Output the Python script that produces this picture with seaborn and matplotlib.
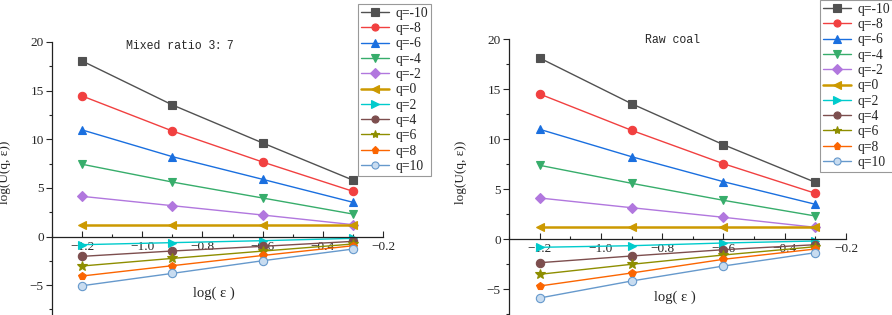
import seaborn as sns
import matplotlib.pyplot as plt
import matplotlib.ticker as mticker
import pandas as pd
import numpy as np

sns.set_theme(style="ticks")
plt.rcParams['font.family'] = ['Liberation Serif', 'Noto Sans CJK SC', 'DejaVu Sans']

# データ
log_eps = [-1.2, -0.9, -0.6, -0.3]
q_labels = ['q=-10', 'q=-8', 'q=-6', 'q=-4', 'q=-2', 'q=0', 'q=2', 'q=4', 'q=6', 'q=8', 'q=10']

mixed_vals = [
    [18.05, 13.53, 9.62, 5.8],
    [14.45, 10.85, 7.66, 4.65],
    [10.96, 8.21, 5.88, 3.52],
    [7.43, 5.6, 3.96, 2.31],
    [4.13, 3.17, 2.21, 1.22],
    [1.22, 1.22, 1.22, 1.22],
    [-0.84, -0.63, -0.43, -0.19],
    [-2.04, -1.49, -1.01, -0.5],
    [-3.03, -2.25, -1.5, -0.77],
    [-4.06, -3.0, -1.95, -0.95],
    [-5.06, -3.79, -2.49, -1.29],
]
raw_vals = [
    [18.1, 13.53, 9.43, 5.67],
    [14.5, 10.87, 7.53, 4.57],
    [10.97, 8.23, 5.73, 3.47],
    [7.37, 5.57, 3.87, 2.3],
    [4.1, 3.13, 2.17, 1.17],
    [1.2, 1.2, 1.2, 1.2],
    [-0.83, -0.67, -0.4, -0.2],
    [-2.37, -1.7, -1.07, -0.57],
    [-3.53, -2.53, -1.6, -0.77],
    [-4.7, -3.4, -2.03, -1.0],
    [-5.9, -4.2, -2.7, -1.37],
]

colors = ['#515151', '#F14040', '#1A6FDF', '#37AD6B', '#B177DE', '#CC9900',
          '#00CBCC', '#7D4E4E', '#8E8E00', '#FB6501', '#6699CC']
markers = ['s', 'o', '^', 'v', 'D', '<', '>', 'o', '*', 'p', 'o']


def draw(ax, vals, title, title_xy, ylab_xy):
    for i, lab in enumerate(q_labels):
        df = pd.DataFrame({'x': log_eps, 'y': vals[i]})
        ms = 6
        if markers[i] == 'D':
            ms = 5.5
        if markers[i] == '*':
            ms = 7
        kw = dict(marker=markers[i], markersize=ms, markeredgecolor=colors[i],
                  markerfacecolor=colors[i], markeredgewidth=0.8)
        if i == 10:
            kw['markerfacecolor'] = '#C8DCF0'
        lw = 1.8 if i == 5 else 1.0
        sns.lineplot(data=df, x='x', y='y', ax=ax, color=colors[i], lw=lw,
                     label=lab, legend=False, **kw)

    ax.set_xlim(-1.3, -0.2)
    ax.spines['bottom'].set_position(('data', 0))
    ax.spines['top'].set_visible(False)
    ax.spines['right'].set_visible(False)
    for s in ['left', 'bottom']:
        ax.spines[s].set_color('#222222')
        ax.spines[s].set_linewidth(0.9)
    ax.xaxis.set_major_locator(mticker.MultipleLocator(0.2))
    ax.xaxis.set_minor_locator(mticker.MultipleLocator(0.1))
    ax.yaxis.set_major_locator(mticker.MultipleLocator(5))
    ax.yaxis.set_minor_locator(mticker.MultipleLocator(2.5))
    ax.xaxis.set_major_formatter(mticker.FuncFormatter(lambda v, p: f'{v:.1f}'.replace('-', '\u2212')))
    ax.tick_params(axis='x', which='major', direction='in', length=4, width=0.8,
                   labelsize=9.5, pad=3)
    ax.tick_params(axis='x', which='minor', direction='in', length=2.5, width=0.8)
    ax.tick_params(axis='y', which='major', direction='out', length=4, width=0.8,
                   labelsize=9.5, pad=2)
    ax.tick_params(axis='y', which='minor', direction='out', length=2.5, width=0.8)
    ax.set_xlabel('')
    ax.set_ylabel('log(U(q, ε))', fontsize=9.5)
    ax.yaxis.set_label_coords(*ylab_xy)
    ax.text(title_xy[0], title_xy[1], title, transform=ax.transAxes, ha='center',
            va='center', fontsize=8.3, family=['Liberation Mono', 'Noto Sans CJK SC'])


fig = plt.figure(figsize=(8.92, 3.15), dpi=100)
ax1 = fig.add_axes([52 / 892, 0.0, 331 / 892, (315 - 42) / 315])
ax2 = fig.add_axes([509 / 892, 0.0, 337 / 892, (315 - 39) / 315])

draw(ax1, mixed_vals, 'Mixed ratio 3：7', (0.387, 0.985), (-0.125, 0.524))
ax1.set_ylim(-8.07, 20)
draw(ax2, raw_vals, 'Raw coal', (0.486, 0.996), (-0.125, 0.518))
ax2.set_ylim(-7.6, 20)

fig.text(214 / 892, 1 - 293 / 315, 'log( ε )', ha='center', va='center', fontsize=10.5)
fig.text(675 / 892, 1 - 297 / 315, 'log( ε )', ha='center', va='center', fontsize=10.5)

for ax, anchor in [(ax1, (358 / 892, 1 - 4 / 315)), (ax2, (820 / 892, 1.0))]:
    h, l = ax.get_legend_handles_labels()
    leg = fig.legend(h, l, loc='upper left', bbox_to_anchor=anchor, fontsize=9.8,
                     frameon=True, fancybox=False, framealpha=1, edgecolor='#999999',
                     labelspacing=0.17, handlelength=2.1, handletextpad=0.45,
                     borderpad=0.2, borderaxespad=0, markerscale=0.85)
    leg.get_frame().set_linewidth(0.8)

fig.savefig('out.png', dpi=100)
